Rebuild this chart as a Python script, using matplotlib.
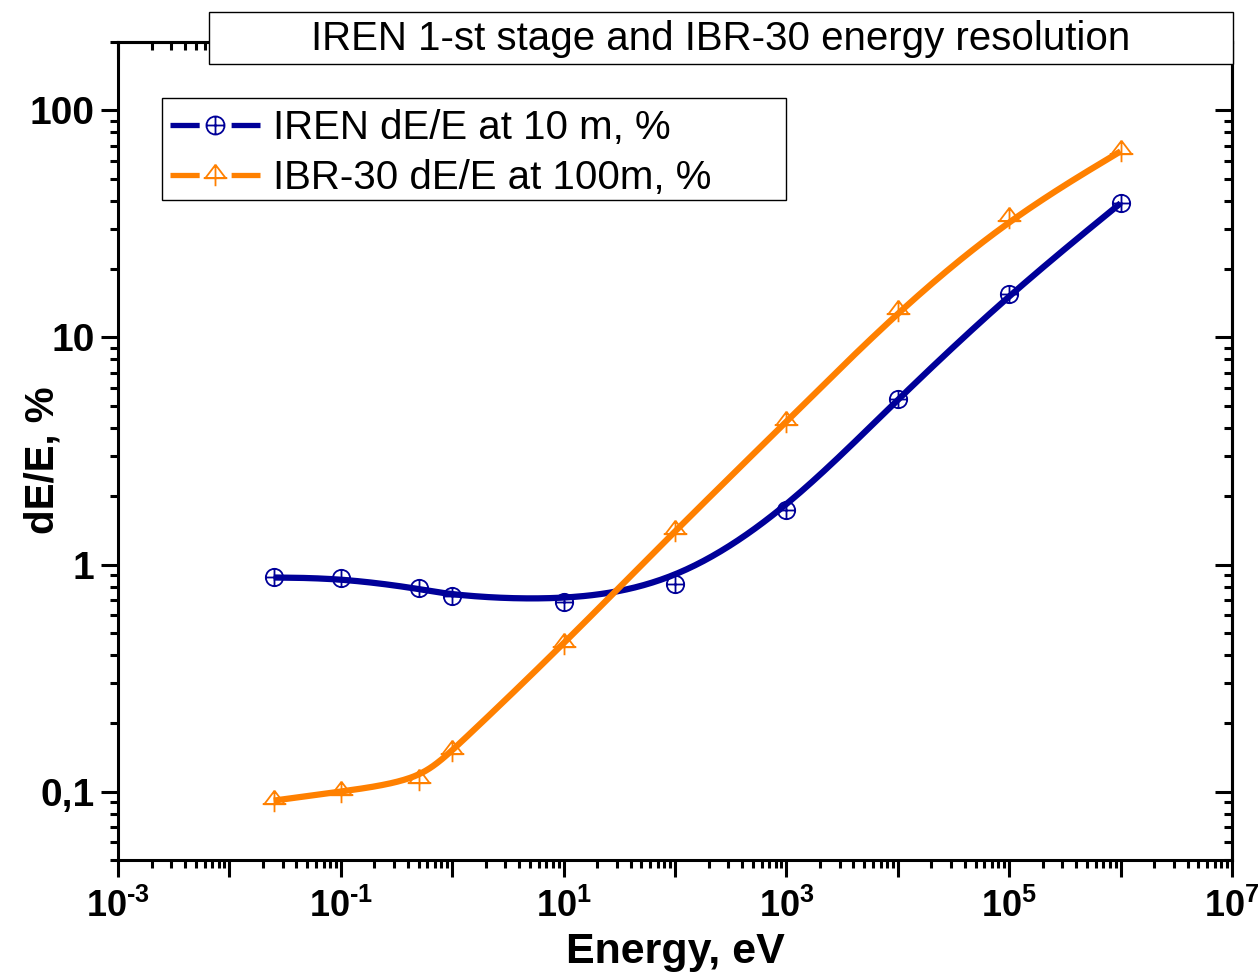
import matplotlib

matplotlib.use('Agg')
import matplotlib.pyplot as plt
import numpy as np
from matplotlib.lines import Line2D
from matplotlib.patches import Rectangle
from matplotlib.path import Path
from matplotlib.ticker import LogLocator, NullFormatter

plt.rcParams['font.family'] = ['Liberation Sans', 'DejaVu Sans']
plt.rcParams['mathtext.fontset'] = 'custom'
plt.rcParams['mathtext.rm'] = 'Liberation Sans:bold'
plt.rcParams['mathtext.bf'] = 'Liberation Sans:bold'
plt.rcParams['lines.scale_dashes'] = False

# energy points, eV
energy = [0.025, 0.1, 0.5, 1, 10, 100, 1000, 1e4, 1e5, 1e6]
iren = [0.877, 0.87, 0.785, 0.73, 0.687, 0.825, 1.73, 5.37, 15.5, 39]
ibr30 = [0.0913, 0.1, 0.112, 0.151, 0.445, 1.41, 4.25, 13.1, 33.5, 66]
iren_label = 'IREN dE/E at 10 m, %'
ibr_label = 'IBR-30 dE/E at 100m, %'
title = 'IREN 1-st stage and IBR-30 energy resolution'
yticks = [0.1, 1, 10, 100]
ytick_labels = ['0,1', '1', '10', '100']
blue = '#000099'
orange = '#ff8000'


def bspline(x, y, n=40):
    # uniform cubic B-spline in log-log space, data as control points
    p = np.column_stack([np.log10(x), np.log10(y)])
    p = np.vstack([p[0], p[0], p, p[-1], p[-1]])
    t = np.linspace(0, 1, n)
    b0 = (1 - t) ** 3 / 6
    b1 = (3 * t ** 3 - 6 * t ** 2 + 4) / 6
    b2 = (-3 * t ** 3 + 3 * t ** 2 + 3 * t + 1) / 6
    b3 = t ** 3 / 6
    out = []
    for i in range(len(p) - 3):
        seg = (np.outer(b0, p[i]) + np.outer(b1, p[i + 1])
               + np.outer(b2, p[i + 2]) + np.outer(b3, p[i + 3]))
        out.append(seg)
    out = np.vstack(out)
    return 10 ** out[:, 0], 10 ** out[:, 1]


M, L = Path.MOVETO, Path.LINETO
circ_plus = Path.make_compound_path(
    Path.unit_circle(),
    Path([(-1, 0), (1, 0)], [M, L]),
    Path([(0, -1), (0, 1)], [M, L]))
tri_plus = Path([(0, 1), (-0.95, -0.25), (0.95, -0.25), (0, 1),
                 (0, 1), (0, -1), (-1.1, -0.25), (1.1, -0.25)],
                [M, L, L, L, M, L, M, L])

fig = plt.figure(figsize=(12.6, 9.77), dpi=100)
ax = fig.add_axes([118 / 1260, 1 - 860 / 977, (1232 - 118) / 1260, (860 - 42) / 977])

ax.plot(energy, iren, linestyle='none', marker=circ_plus, ms=12.5, mfc='none',
        mec=blue, mew=1.3, zorder=2)
ax.plot(energy, ibr30, linestyle='none', marker=tri_plus, ms=17, mfc='none',
        mec=orange, mew=1.3, zorder=2)
sx, sy = bspline(energy, iren)
ax.plot(sx, sy, color=blue, lw=4.5, zorder=3, solid_capstyle='butt')
sx, sy = bspline(energy, ibr30)
ax.plot(sx, sy, color=orange, lw=4.5, zorder=3, solid_capstyle='butt')

ax.set_xscale('log')
ax.set_yscale('log')
ax.set_xlim(1e-3, 1e7)
ax.set_ylim(0.05, 200)

decades = list(range(-3, 8))
ax.set_xticks([10.0 ** k for k in decades])
ax.set_xticklabels(['$10^{\\text{%d}}$' % k if k % 2 else '' for k in decades])
ax.xaxis.set_minor_locator(LogLocator(base=10, subs=np.arange(2, 10), numticks=20))
ax.xaxis.set_minor_formatter(NullFormatter())
ax.set_yticks(yticks)
ax.set_yticklabels(ytick_labels)
ax.yaxis.set_minor_locator(LogLocator(base=10, subs=np.arange(2, 10), numticks=20))
ax.yaxis.set_minor_formatter(NullFormatter())

for s in ax.spines.values():
    s.set_linewidth(2.2)
ax.tick_params(which='major', direction='out', length=12, width=2.2)
ax.tick_params(which='minor', direction='out', length=6, width=2.2)
ax.tick_params(axis='x', which='major', labelsize=26, pad=9)
ax.tick_params(axis='y', which='major', labelsize=28, pad=5)
for lab in ax.get_xticklabels() + ax.get_yticklabels():
    lab.set_fontweight('bold')

top = ax.secondary_xaxis('top')
top.set_xticks([10.0 ** k for k in decades])
top.xaxis.set_minor_locator(LogLocator(base=10, subs=np.arange(2, 10), numticks=20))
top.tick_params(which='major', direction='in', length=12, width=2.2, labeltop=False)
top.tick_params(which='minor', direction='in', length=6, width=2.2)
top.spines['top'].set_linewidth(2.2)
right = ax.secondary_yaxis('right')
right.set_yticks(yticks)
right.yaxis.set_minor_locator(LogLocator(base=10, subs=np.arange(2, 10), numticks=20))
right.yaxis.set_minor_formatter(NullFormatter())
right.tick_params(which='major', direction='in', length=12, width=2.2, labelright=False)
right.tick_params(which='minor', direction='in', length=6, width=2.2)
right.spines['right'].set_linewidth(2.2)

ax.set_xlabel('Energy, eV', fontsize=31, fontweight='bold')
ax.xaxis.set_label_coords(0.5, -0.088)
ax.set_ylabel('dE/E, %', fontsize=29, fontweight='bold')
ax.yaxis.set_label_coords(-0.051, 0.489)

handles = [
    Line2D([], [], color=blue, lw=3.8, dashes=(21, 23, 60, 2), marker=circ_plus,
           ms=13, mfc='none', mec=blue, mew=1.3, dash_capstyle='butt'),
    Line2D([], [], color=orange, lw=3.8, dashes=(21, 23, 60, 2), marker=tri_plus,
           ms=17, mfc='none', mec=orange, mew=1.3, dash_capstyle='butt'),
]
leg = fig.legend(handles, [iren_label, ibr_label], loc='upper left',
                 bbox_to_anchor=(162 / 1260, 1 - 101 / 977), fontsize=29,
                 frameon=False, borderaxespad=0, borderpad=0.2,
                 handlelength=2.24, handletextpad=0.32, labelspacing=0.3,
                 numpoints=1)
fig.patches.append(Rectangle((162 / 1260, 1 - 200 / 977), (786 - 162) / 1260,
                             102 / 977, transform=fig.transFigure,
                             facecolor='none', edgecolor='black', lw=1.0,
                             zorder=10))

fig.patches.append(Rectangle((209 / 1260, 1 - 64 / 977), (1233 - 209) / 1260,
                             52 / 977, transform=fig.transFigure,
                             facecolor='white', edgecolor='black', lw=1.0,
                             zorder=10))
fig.text(721 / 1260, 1 - 39 / 977, title, fontsize=29, ha='center',
         va='center', zorder=11)

plt.savefig('out.png', dpi=100)
plt.close()
